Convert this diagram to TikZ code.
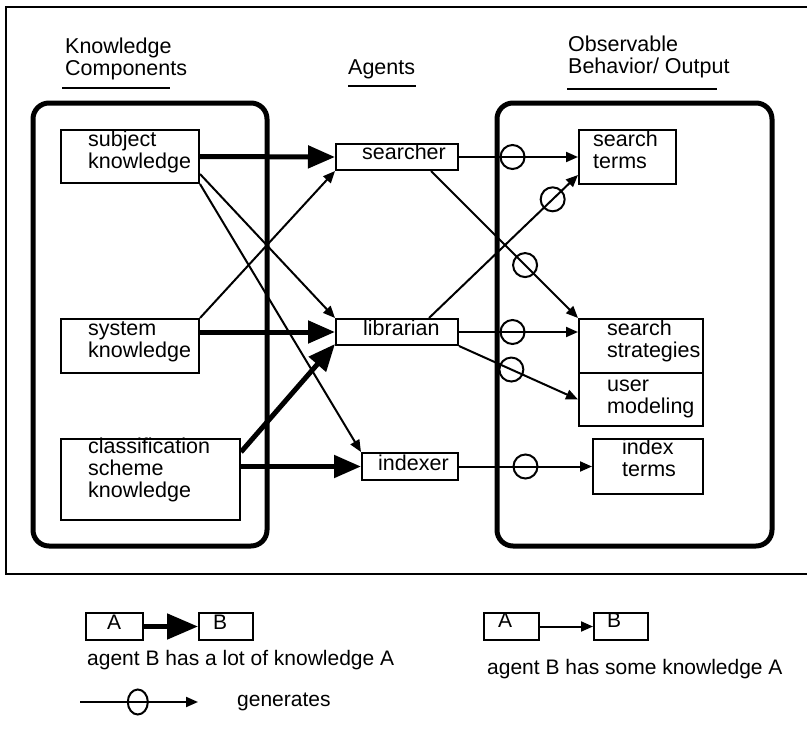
\documentclass[tikz,border=0pt]{standalone}
\usepackage{fontspec}
\setmainfont{Liberation Sans}
\usetikzlibrary{arrows.meta,calc,shapes.geometric}
\begin{document}
\begin{tikzpicture}[x=1pt,y=-1pt,
  box/.style={draw, line width=2pt, rectangle, inner sep=0pt, anchor=north west},
  grp/.style={draw, line width=5pt, rounded corners=16pt},
  lbl/.style={anchor=base west, align=left, inner sep=0pt, font=\fontsize{21.5}{22}\selectfont},
  hdr/.style={anchor=base west, align=left, inner sep=0pt, font=\fontsize{21.5}{22}\selectfont},
  leg/.style={anchor=base west, inner sep=0pt, font=\fontsize{21}{22}\selectfont},
  heavy/.style={line width=5pt, -{Triangle[length=27pt,width=22pt]}},
  light/.style={line width=2pt, -{Triangle[length=12pt,width=10pt]}},
  gen/.style={draw, circle, line width=2pt, minimum size=24pt, inner sep=0pt},
  rule/.style={line width=2pt},
]
\useasboundingbox (0,0) rectangle (807,734);

% outer frame
\draw[rule] (807,7) -- (6,7) -- (6,574) -- (807,574);

% headers (base anchor = last line)
\node[hdr] (hk) at (65,75) {Knowledge\\Components};
\node[hdr] (ha) at (348,74) {Agents};
\node[hdr] (ho) at (568,73) {Observable\\Behavior/ Output};
\draw[rule] (62,88) -- (170,88);
\draw[rule] (348,86) -- (416,86);
\draw[rule] (567,89) -- (717,89);

% group frames
\draw[grp] (33,103) rectangle (267,546);
\draw[grp] (497,103) rectangle (772,546);

% boxes
\node[box, minimum width=138pt, minimum height=53pt] (subj) at (60,129) {};
\node[box, minimum width=138pt, minimum height=54pt] (syst) at (60,318) {};
\node[box, minimum width=179pt, minimum height=81pt] (clas) at (60,438) {};
\node[box, minimum width=122pt, minimum height=26pt] (srch) at (335,143) {};
\node[box, minimum width=122pt, minimum height=26pt] (libr) at (335,318) {};
\node[box, minimum width=96pt, minimum height=27pt] (indx) at (361,452) {};
\node[box, minimum width=97pt, minimum height=54pt] (sterm) at (578,129) {};
\node[box, minimum width=124pt, minimum height=54pt] (sstrat) at (578,318) {};
\node[box, minimum width=124pt, minimum height=53pt] (umod) at (578,372) {};
\node[box, minimum width=110pt, minimum height=55pt] (iterm) at (592,438) {};

% box texts (base anchor = last line)
\node[lbl] (subjT) at (88,168) {subject\\knowledge};
\node[lbl] (systT) at (88,357) {system\\knowledge};
\node[lbl] (clasT) at (88,497) {classification\\scheme\\knowledge};
\node[lbl] (srchT) at (362,159) {searcher};
\node[lbl] (librT) at (363,335) {librarian};
\node[lbl] (indxT) at (378,470) {indexer};
\node[lbl] (stermT) at (593,168) {search\\terms};
\node[lbl] (sstratT) at (607,357) {search\\strategies};
\node[lbl] (umodT) at (607,413) {user\\modeling};
\node[lbl] (itermT) at (622,476) {index\\terms};

% knowledge connectors
\draw[heavy] (subj.east) -- (srch.west);
\draw[heavy] (syst.east |- libr.west) -- (libr.west);
\draw[heavy] ([yshift=-14pt]clas.north east) -- ([yshift=2pt]libr.south west);
\draw[heavy] (clas.east |- indx.west) -- (indx.west);
\draw[light] ([yshift=10pt]subj.south east) -- (libr.north west);
\draw[light] (subj.south east) -- (indx.north west);
\draw[light] (syst.north east) -- (srch.south west);

% generates connectors
\draw[light] (srch.east) -- node[gen,pos=0.45] (g1) {} (sterm.west |- srch.east);
\draw[light] ([xshift=32pt]libr.north) -- node[gen,pos=0.83] (g2) {} ([yshift=10pt]sterm.south west);
\draw[light] ([xshift=34pt]srch.south) -- node[gen,pos=0.64] (g3) {} (sstrat.north west);
\draw[light] (libr.east) -- node[gen,pos=0.45] (g4) {} (sstrat.west |- libr.east);
\draw[light] (libr.south east) -- node[gen,pos=0.44] (g5) {} (umod.west);
\draw[light] (indx.east) -- node[gen,pos=0.5] (g6) {} (iterm.west |- indx.east);

% legend
\node[box, minimum width=57pt, minimum height=27pt] (la1) at (85,612) {};
\node[box, minimum width=54pt, minimum height=27pt] (lb1) at (198,612) {};
\node[leg] (la1T) at (107,629) {A};
\node[leg] (lb1T) at (213,629) {B};
\draw[line width=5pt, -{Triangle[length=31pt,width=25pt]}] (la1.east) -- (lb1.west);
\node[leg] (l1T) at (87,665) {agent B has a lot of knowledge A};

\node[box, minimum width=55pt, minimum height=27pt] (la2) at (483,612) {};
\node[box, minimum width=54pt, minimum height=27pt] (lb2) at (593,612) {};
\node[leg] (la2T) at (498,627) {A};
\node[leg] (lb2T) at (607,627) {B};
\draw[light] (la2.east) -- (lb2.west);
\node[leg] (l2T) at (487,674) {agent B has some knowledge A};

\coordinate (gs) at (80,702);
\coordinate (ge) at (198,702);
\draw[light] (gs) -- node[draw, ellipse, line width=2pt, minimum width=20pt, minimum height=25pt, inner sep=0pt, pos=0.49] (g7) {} (ge);
\node[leg] (genT) at (237,706) {generates};
\end{tikzpicture}
\end{document}
